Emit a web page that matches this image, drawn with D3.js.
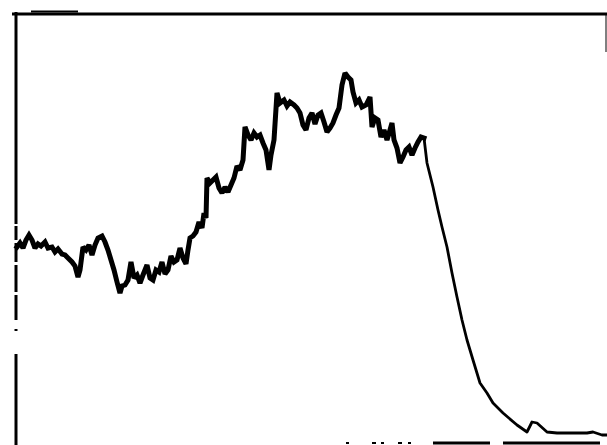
<!DOCTYPE html>
<html>
<head>
<meta charset="utf-8">
<script src="https://cdn.jsdelivr.net/npm/d3@7"></script>
<style>
  html, body { margin: 0; padding: 0; background: #fff; }
  svg { display: block; }
</style>
</head>
<body>
<div id="chart"></div>
<script>
// channel number (x) and counts (y), ten per row
const channel = [
  2, 5, 8, 11, 14, 17, 20, 23, 26, 30,
  33, 37, 40, 43, 47, 50, 53, 57, 60, 63,
  65, 68, 71, 74, 77, 80, 83, 87, 90, 93,
  96, 99, 102, 105, 107, 110, 113, 116, 119, 122,
  125, 128, 132, 135, 138, 141, 144, 147, 150, 153,
  156, 159, 162, 165, 168, 171, 173, 175, 178, 181,
  184, 187, 189, 191, 192, 195, 198, 201, 204, 207,
  210, 213, 216, 219, 222, 225, 228, 230, 233, 236,
  239, 242, 245, 248, 251, 254, 256, 259, 262, 265,
  269, 272, 275, 279, 282, 285, 288, 291, 294, 297,
  300, 303, 306, 309, 312, 315, 318, 321, 324, 327,
  330, 333, 336, 338, 341, 344, 347, 351, 355, 357,
  360, 363, 366, 369, 372, 375, 377, 379, 382, 385,
  388, 391, 394, 397, 400, 403, 406, 409, 412, 418,
  423, 427, 432, 437, 442, 447, 452, 458, 465, 472,
  478, 488, 502, 512, 517, 522, 532, 542, 572, 578,
  587, 592
];
const counts = [
  190, 194, 189, 197, 202, 197, 189, 193, 191, 195,
  189, 190, 185, 188, 183, 182, 179, 175, 171, 160,
  167, 190, 187, 192, 182, 192, 199, 201, 195, 187,
  177, 167, 155, 144, 151, 152, 157, 175, 159, 162,
  154, 162, 172, 159, 157, 167, 165, 175, 163, 167,
  181, 175, 177, 189, 179, 173, 187, 199, 201, 205,
  215, 209, 224, 219, 259, 254, 257, 260, 249, 244,
  250, 245, 252, 259, 271, 267, 277, 310, 302, 297,
  304, 300, 302, 294, 287, 267, 282, 297, 344, 334,
  337, 331, 335, 332, 329, 324, 312, 307, 319, 324,
  313, 322, 324, 315, 305, 309, 314, 322, 329, 352,
  364, 360, 357, 345, 334, 337, 330, 332, 340, 310,
  319, 317, 300, 307, 297, 307, 314, 297, 289, 274,
  280, 287, 290, 282, 289, 295, 300, 299, 274, 250,
  227, 210, 190, 164, 140, 117, 97, 77, 54, 44,
  34, 24, 12, 5, 15, 14, 5, 4, 4, 5,
  2, 2
];
// where the noisy part of the trace ends and the smooth fall-off begins
const noisyEnd = 409;

const width = 607, height = 445;
const svg = d3.select('#chart').append('svg')
  .attr('width', width)
  .attr('height', height);

const x = d3.scaleLinear().domain([0, 592]).range([15, 607]);
const y = d3.scaleLinear().domain([0, 424]).range([437, 13]);

const data = channel.map((c, i) => ({ c, v: counts[i] }));

// frame, as it comes out of the scan
const ink = '#000';
svg.append('line')
  .attr('x1', 12).attr('x2', width)
  .attr('y1', 14).attr('y2', 14)
  .attr('stroke', ink).attr('stroke-width', 3);
svg.append('line')
  .attr('x1', 31).attr('x2', 78)
  .attr('y1', 11.5).attr('y2', 11.5)
  .attr('stroke', ink).attr('stroke-width', 2);
svg.append('line')
  .attr('x1', 606).attr('x2', 606)
  .attr('y1', 13).attr('y2', 52)
  .attr('stroke', ink).attr('stroke-width', 1);

// left axis: solid, broken, solid
const leftAxis = [[12, 224], [226, 240], [243, 262], [265, 292], [295, 320], [329, 331], [354, 445]];
svg.selectAll('.left-seg')
  .data(leftAxis)
  .enter()
  .append('line')
  .attr('class', 'left-seg')
  .attr('x1', 16).attr('x2', 16)
  .attr('y1', d => d[0]).attr('y2', d => d[1])
  .attr('stroke', ink)
  .attr('stroke-width', 3);

// bottom edge fragments
const bottomEdge = [[346, 349], [372, 376], [381, 384], [398, 402], [408, 411], [433, 490], [503, 600]];
svg.selectAll('.bottom-seg')
  .data(bottomEdge)
  .enter()
  .append('line')
  .attr('class', 'bottom-seg')
  .attr('x1', d => d[0]).attr('x2', d => d[1])
  .attr('y1', 443).attr('y2', 443)
  .attr('stroke', ink)
  .attr('stroke-width', d => d[1] - d[0] > 10 ? 3 : 2);

const line = d3.line()
  .x(d => x(d.c))
  .y(d => y(d.v));

// noisy part drawn heavier, decay thinner
svg.append('path')
  .datum(data.filter(d => d.c <= noisyEnd))
  .attr('d', line)
  .attr('fill', 'none')
  .attr('stroke', ink)
  .attr('stroke-width', 5)
  .attr('stroke-linejoin', 'miter')
  .attr('stroke-miterlimit', 2)
  .attr('stroke-linecap', 'square');

svg.append('path')
  .datum(data.filter(d => d.c >= noisyEnd))
  .attr('d', line)
  .attr('fill', 'none')
  .attr('stroke', ink)
  .attr('stroke-width', 2.8)
  .attr('stroke-linejoin', 'round');
</script>
</body>
</html>
